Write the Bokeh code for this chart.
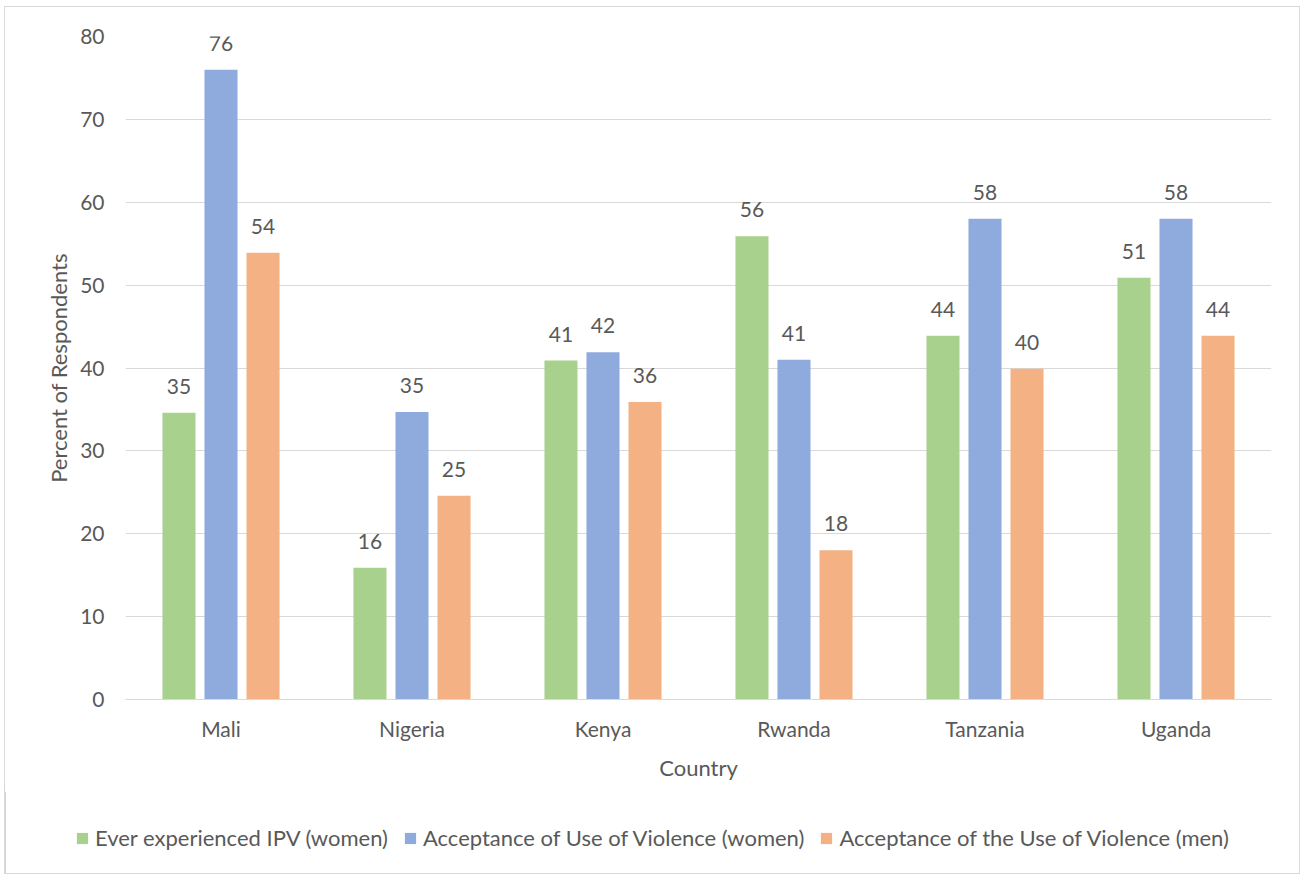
from bokeh.plotting import figure
from bokeh.layouts import column
from bokeh.models import ColumnDataSource, FixedTicker, Legend, LegendItem, LabelSet
from bokeh.core.properties import value
from bokeh.transform import dodge
from bokeh.embed import file_html
from bokeh.resources import INLINE

countries = ["Mali", "Nigeria", "Kenya", "Rwanda", "Tanzania", "Uganda"]
ipv_women = [34.6, 15.9, 40.9, 55.9, 43.9, 50.9]
accept_women = [76.0, 34.7, 41.9, 41.0, 58.0, 58.0]
accept_men = [53.9, 24.6, 35.9, 18.0, 39.9, 43.9]
series_names = [
    "Ever experienced IPV (women)",
    "Acceptance of Use of Violence (women)",
    "Acceptance of the Use of Violence (men)",
]
colors = ["#A9D18E", "#8FAADC", "#F4B183"]

FONT = "Lato"
TXT = "#595959"
FS = "21px"

xs = list(range(len(countries)))
src = ColumnDataSource(dict(
    x=xs,
    s0=ipv_women, s1=accept_women, s2=accept_men,
    l0=[str(round(v)) for v in ipv_women],
    l1=[str(round(v)) for v in accept_women],
    l2=[str(round(v)) for v in accept_men],
))

# main chart
p = figure(width=1294, height=784, x_range=(-0.5, 5.5), y_range=(0, 80),
           output_backend="svg", toolbar_location=None,
           min_border_left=120, min_border_right=28, min_border_top=29,
           min_border_bottom=92)
p.outline_line_color = None

offsets = [-0.22, 0.0, 0.22]
for i, off in enumerate(offsets):
    p.vbar(x=dodge("x", off), top=f"s{i}", width=0.173, source=src,
           fill_color=colors[i], line_color=None)
    p.add_layout(LabelSet(x=dodge("x", off), y=f"s{i}", text=f"l{i}", source=src,
                          text_align="center", text_baseline="alphabetic", y_offset=19,
                          text_font=value(FONT), text_font_size=FS,
                          text_color=TXT))

p.xaxis.ticker = FixedTicker(ticks=xs)
p.xaxis.major_label_overrides = {i: c for i, c in enumerate(countries)}
p.yaxis.ticker = FixedTicker(ticks=list(range(0, 81, 10)))

p.xgrid.grid_line_color = None
p.ygrid.grid_line_color = "#d9d9d9"
p.ygrid.grid_line_width = 1

for ax in (p.xaxis, p.yaxis):
    ax.major_tick_line_color = None
    ax.minor_tick_line_color = None
    ax.major_label_text_font = FONT
    ax.major_label_text_font_size = FS
    ax.major_label_text_color = TXT
    ax.axis_label_text_font = FONT
    ax.axis_label_text_font_size = "22px"
    ax.axis_label_text_color = TXT
    ax.axis_label_text_font_style = "normal"
p.yaxis.axis_line_color = None
p.xaxis.axis_line_color = "#d9d9d9"
p.xaxis.major_label_standoff = 10
p.yaxis.major_label_standoff = 15
p.xaxis.axis_label = "Country"
p.yaxis.axis_label = "Percent of Respondents"
p.xaxis.axis_label_standoff = 10
p.yaxis.axis_label_standoff = 5

# legend strip under the chart; the swatch glyphs sit outside the visible range
lg = figure(width=1294, height=82, x_range=(0, 1), y_range=(0, 1),
            output_backend="svg", toolbar_location=None,
            min_border_left=0, min_border_right=0, min_border_top=0,
            min_border_bottom=0, outline_line_color=None)
lg.axis.visible = False
lg.grid.visible = False
for fig in (p, lg):
    if "frame_align" in fig.properties():
        fig.frame_align = False
items = []
for name, c in zip(series_names, colors):
    r = lg.vbar(x=[-5], top=[1], width=0.1, fill_color=c, line_color=None)
    items.append(LegendItem(label=name, renderers=[r]))

legend = Legend(items=items, orientation="horizontal", location=(70, 22),
                label_text_font=FONT, label_text_font_size="22px",
                label_text_color=TXT, glyph_width=14, glyph_height=14,
                label_standoff=6, spacing=15, padding=0, margin=0,
                border_line_color=None, background_fill_alpha=0)
lg.add_layout(legend)

layout = column(p, lg, spacing=0)
layout.margin = (6, 0, 0, 4)
layout.styles = {"border": "1px solid #d9d9d9"}

open("out.html", "w").write(file_html(layout, INLINE))
